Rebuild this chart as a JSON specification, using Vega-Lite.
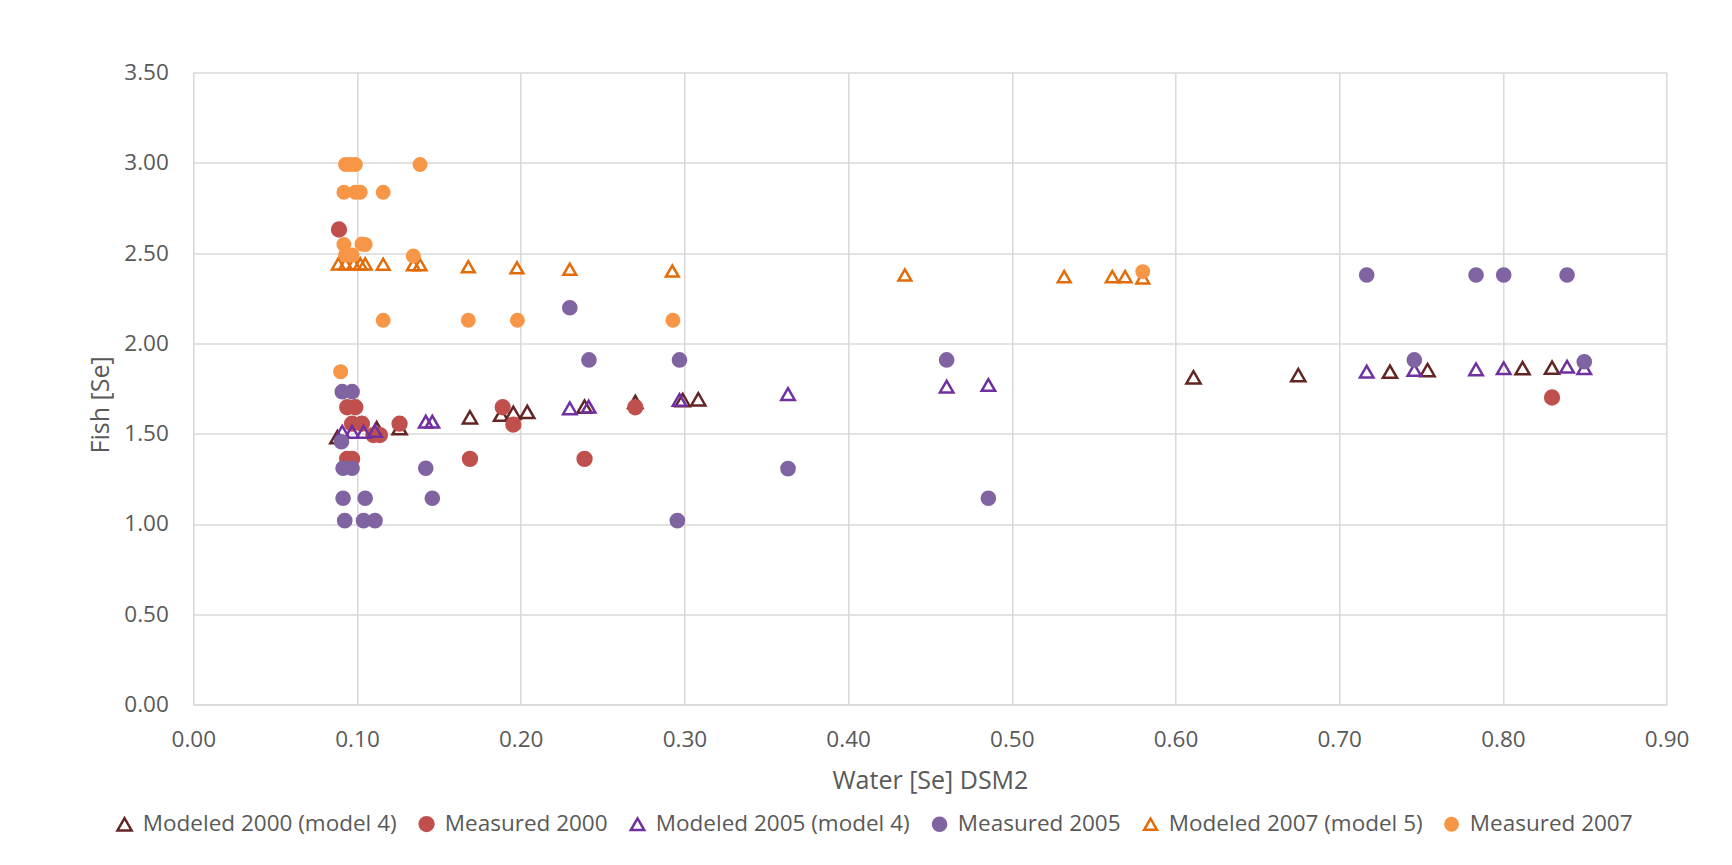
{
  "$schema": "https://vega.github.io/schema/vega-lite/v6.json",
  "width": 1473.3,
  "height": 632.1,
  "autosize": {"type": "none"},
  "padding": {"left": 193.3, "top": 72.4, "right": 65.4, "bottom": 160.5},
  "background": "white",
  "config": {
    "font": "Open Sans",
    "view": {"stroke": null},
    "axis": {
      "labelFont": "Open Sans",
      "labelFontSize": 22.5,
      "labelColor": "#595959",
      "titleFont": "Open Sans",
      "titleFontSize": 25,
      "titleFontWeight": "normal",
      "titleColor": "#595959",
      "gridColor": "#d9d9d9",
      "gridWidth": 1.5,
      "ticks": false,
      "domainColor": "#d9d9d9",
      "domainWidth": 1.5
    },
    "legend": {
      "labelFont": "Open Sans",
      "labelFontSize": 22.5,
      "labelColor": "#595959",
      "labelLimit": 0,
      "title": null,
      "orient": "none",
      "direction": "horizontal",
      "legendX": -80,
      "legendY": 740,
      "symbolStrokeWidth": 2.5,
      "labelOffset": 7,
      "columnPadding": 17
    }
  },
  "data": {
    "values": [
      {"series": "Modeled 2000 (model 4)", "water": 0.088, "fish": 1.48},
      {"series": "Modeled 2000 (model 4)", "water": 0.112, "fish": 1.53},
      {"series": "Modeled 2000 (model 4)", "water": 0.126, "fish": 1.53},
      {"series": "Modeled 2000 (model 4)", "water": 0.169, "fish": 1.59},
      {"series": "Modeled 2000 (model 4)", "water": 0.188, "fish": 1.605},
      {"series": "Modeled 2000 (model 4)", "water": 0.1955, "fish": 1.615},
      {"series": "Modeled 2000 (model 4)", "water": 0.204, "fish": 1.62},
      {"series": "Modeled 2000 (model 4)", "water": 0.239, "fish": 1.65},
      {"series": "Modeled 2000 (model 4)", "water": 0.270, "fish": 1.675},
      {"series": "Modeled 2000 (model 4)", "water": 0.299, "fish": 1.686},
      {"series": "Modeled 2000 (model 4)", "water": 0.3085, "fish": 1.69},
      {"series": "Modeled 2000 (model 4)", "water": 0.611, "fish": 1.812},
      {"series": "Modeled 2000 (model 4)", "water": 0.675, "fish": 1.824},
      {"series": "Modeled 2000 (model 4)", "water": 0.731, "fish": 1.843},
      {"series": "Modeled 2000 (model 4)", "water": 0.754, "fish": 1.852},
      {"series": "Modeled 2000 (model 4)", "water": 0.812, "fish": 1.862},
      {"series": "Modeled 2000 (model 4)", "water": 0.830, "fish": 1.865},

      {"series": "Measured 2000", "water": 0.089, "fish": 2.63},
      {"series": "Measured 2000", "water": 0.094, "fish": 1.646},
      {"series": "Measured 2000", "water": 0.099, "fish": 1.646},
      {"series": "Measured 2000", "water": 0.097, "fish": 1.555},
      {"series": "Measured 2000", "water": 0.103, "fish": 1.555},
      {"series": "Measured 2000", "water": 0.110, "fish": 1.492},
      {"series": "Measured 2000", "water": 0.114, "fish": 1.492},
      {"series": "Measured 2000", "water": 0.126, "fish": 1.555},
      {"series": "Measured 2000", "water": 0.094, "fish": 1.36},
      {"series": "Measured 2000", "water": 0.097, "fish": 1.36},
      {"series": "Measured 2000", "water": 0.169, "fish": 1.36},
      {"series": "Measured 2000", "water": 0.189, "fish": 1.646},
      {"series": "Measured 2000", "water": 0.1955, "fish": 1.55},
      {"series": "Measured 2000", "water": 0.239, "fish": 1.36},
      {"series": "Measured 2000", "water": 0.270, "fish": 1.646},
      {"series": "Measured 2000", "water": 0.830, "fish": 1.70},

      {"series": "Modeled 2005 (model 4)", "water": 0.091, "fish": 1.51},
      {"series": "Modeled 2005 (model 4)", "water": 0.097, "fish": 1.51},
      {"series": "Modeled 2005 (model 4)", "water": 0.104, "fish": 1.51},
      {"series": "Modeled 2005 (model 4)", "water": 0.111, "fish": 1.515},
      {"series": "Modeled 2005 (model 4)", "water": 0.142, "fish": 1.566},
      {"series": "Modeled 2005 (model 4)", "water": 0.146, "fish": 1.566},
      {"series": "Modeled 2005 (model 4)", "water": 0.230, "fish": 1.64},
      {"series": "Modeled 2005 (model 4)", "water": 0.2415, "fish": 1.649},
      {"series": "Modeled 2005 (model 4)", "water": 0.297, "fish": 1.686},
      {"series": "Modeled 2005 (model 4)", "water": 0.3633, "fish": 1.719},
      {"series": "Modeled 2005 (model 4)", "water": 0.4602, "fish": 1.76},
      {"series": "Modeled 2005 (model 4)", "water": 0.4857, "fish": 1.769},
      {"series": "Modeled 2005 (model 4)", "water": 0.7168, "fish": 1.843},
      {"series": "Modeled 2005 (model 4)", "water": 0.7459, "fish": 1.852},
      {"series": "Modeled 2005 (model 4)", "water": 0.7836, "fish": 1.856},
      {"series": "Modeled 2005 (model 4)", "water": 0.8005, "fish": 1.862},
      {"series": "Modeled 2005 (model 4)", "water": 0.8392, "fish": 1.87},
      {"series": "Modeled 2005 (model 4)", "water": 0.8497, "fish": 1.862},

      {"series": "Measured 2005", "water": 0.091, "fish": 1.732},
      {"series": "Measured 2005", "water": 0.097, "fish": 1.732},
      {"series": "Measured 2005", "water": 0.0905, "fish": 1.455},
      {"series": "Measured 2005", "water": 0.0915, "fish": 1.308},
      {"series": "Measured 2005", "water": 0.097, "fish": 1.308},
      {"series": "Measured 2005", "water": 0.0915, "fish": 1.142},
      {"series": "Measured 2005", "water": 0.105, "fish": 1.142},
      {"series": "Measured 2005", "water": 0.0925, "fish": 1.018},
      {"series": "Measured 2005", "water": 0.104, "fish": 1.018},
      {"series": "Measured 2005", "water": 0.111, "fish": 1.018},
      {"series": "Measured 2005", "water": 0.142, "fish": 1.308},
      {"series": "Measured 2005", "water": 0.146, "fish": 1.142},
      {"series": "Measured 2005", "water": 0.230, "fish": 2.197},
      {"series": "Measured 2005", "water": 0.2417, "fish": 1.908},
      {"series": "Measured 2005", "water": 0.297, "fish": 1.908},
      {"series": "Measured 2005", "water": 0.2957, "fish": 1.018},
      {"series": "Measured 2005", "water": 0.3633, "fish": 1.306},
      {"series": "Measured 2005", "water": 0.4602, "fish": 1.908},
      {"series": "Measured 2005", "water": 0.4857, "fish": 1.142},
      {"series": "Measured 2005", "water": 0.7168, "fish": 2.378},
      {"series": "Measured 2005", "water": 0.7836, "fish": 2.378},
      {"series": "Measured 2005", "water": 0.8005, "fish": 2.378},
      {"series": "Measured 2005", "water": 0.8392, "fish": 2.378},
      {"series": "Measured 2005", "water": 0.7459, "fish": 1.908},
      {"series": "Measured 2005", "water": 0.8497, "fish": 1.898},

      {"series": "Modeled 2007 (model 5)", "water": 0.0886, "fish": 2.44},
      {"series": "Modeled 2007 (model 5)", "water": 0.093, "fish": 2.44},
      {"series": "Modeled 2007 (model 5)", "water": 0.098, "fish": 2.44},
      {"series": "Modeled 2007 (model 5)", "water": 0.102, "fish": 2.44},
      {"series": "Modeled 2007 (model 5)", "water": 0.105, "fish": 2.44},
      {"series": "Modeled 2007 (model 5)", "water": 0.116, "fish": 2.438},
      {"series": "Modeled 2007 (model 5)", "water": 0.1344, "fish": 2.435},
      {"series": "Modeled 2007 (model 5)", "water": 0.1385, "fish": 2.435},
      {"series": "Modeled 2007 (model 5)", "water": 0.168, "fish": 2.424},
      {"series": "Modeled 2007 (model 5)", "water": 0.1977, "fish": 2.418},
      {"series": "Modeled 2007 (model 5)", "water": 0.230, "fish": 2.41},
      {"series": "Modeled 2007 (model 5)", "water": 0.2926, "fish": 2.40},
      {"series": "Modeled 2007 (model 5)", "water": 0.4347, "fish": 2.378},
      {"series": "Modeled 2007 (model 5)", "water": 0.532, "fish": 2.369},
      {"series": "Modeled 2007 (model 5)", "water": 0.5614, "fish": 2.369},
      {"series": "Modeled 2007 (model 5)", "water": 0.5692, "fish": 2.369},
      {"series": "Modeled 2007 (model 5)", "water": 0.580, "fish": 2.362},

      {"series": "Measured 2007", "water": 0.093, "fish": 2.99},
      {"series": "Measured 2007", "water": 0.096, "fish": 2.99},
      {"series": "Measured 2007", "water": 0.099, "fish": 2.99},
      {"series": "Measured 2007", "water": 0.1385, "fish": 2.99},
      {"series": "Measured 2007", "water": 0.092, "fish": 2.836},
      {"series": "Measured 2007", "water": 0.099, "fish": 2.836},
      {"series": "Measured 2007", "water": 0.102, "fish": 2.836},
      {"series": "Measured 2007", "water": 0.116, "fish": 2.836},
      {"series": "Measured 2007", "water": 0.092, "fish": 2.547},
      {"series": "Measured 2007", "water": 0.103, "fish": 2.55},
      {"series": "Measured 2007", "water": 0.105, "fish": 2.547},
      {"series": "Measured 2007", "water": 0.093, "fish": 2.489},
      {"series": "Measured 2007", "water": 0.097, "fish": 2.489},
      {"series": "Measured 2007", "water": 0.1344, "fish": 2.483},
      {"series": "Measured 2007", "water": 0.116, "fish": 2.128},
      {"series": "Measured 2007", "water": 0.168, "fish": 2.128},
      {"series": "Measured 2007", "water": 0.198, "fish": 2.128},
      {"series": "Measured 2007", "water": 0.293, "fish": 2.128},
      {"series": "Measured 2007", "water": 0.090, "fish": 1.843},
      {"series": "Measured 2007", "water": 0.580, "fish": 2.397}
    ]
  },
  "mark": {"type": "point", "strokeWidth": 2.5, "opacity": 1},
  "encoding": {
    "x": {
      "field": "water", "type": "quantitative",
      "scale": {"domain": [0, 0.9], "nice": false, "zero": false},
      "axis": {
        "values": [0, 0.1, 0.2, 0.3, 0.4, 0.5, 0.6, 0.7, 0.8, 0.9],
        "format": ".2f",
        "title": "Water [Se] DSM2",
        "labelPadding": 24,
        "titleY": 83.5,
        "titleBaseline": "alphabetic",
        "labelFlush": false
      }
    },
    "y": {
      "field": "fish", "type": "quantitative",
      "scale": {"domain": [0, 3.5], "nice": false},
      "axis": {
        "values": [0, 0.5, 1, 1.5, 2, 2.5, 3, 3.5],
        "format": ".2f",
        "title": "Fish [Se]",
        "labelPadding": 25,
        "domain": false,
        "titleX": -93,
        "titleY": 332,
        "titleAlign": "center",
        "titleBaseline": "middle",
        "titleAngle": -90,
        "labelFlush": false
      }
    },
    "shape": {
      "field": "series", "type": "nominal",
      "scale": {
        "domain": ["Modeled 2000 (model 4)", "Measured 2000", "Modeled 2005 (model 4)", "Measured 2005", "Modeled 2007 (model 5)", "Measured 2007"],
        "range": ["triangle-up", "circle", "triangle-up", "circle", "triangle-up", "circle"]
      }
    },
    "stroke": {
      "field": "series", "type": "nominal",
      "scale": {
        "domain": ["Modeled 2000 (model 4)", "Measured 2000", "Modeled 2005 (model 4)", "Measured 2005", "Modeled 2007 (model 5)", "Measured 2007"],
        "range": ["#632523", "#C0504D", "#7030A0", "#8064A2", "#E36C09", "#F79646"]
      }
    },
    "fill": {
      "field": "series", "type": "nominal",
      "scale": {
        "domain": ["Modeled 2000 (model 4)", "Measured 2000", "Modeled 2005 (model 4)", "Measured 2005", "Modeled 2007 (model 5)", "Measured 2007"],
        "range": ["transparent", "#C0504D", "transparent", "#8064A2", "transparent", "#F79646"]
      }
    },
    "size": {
      "field": "series", "type": "ordinal",
      "scale": {
        "domain": ["Modeled 2000 (model 4)", "Measured 2000", "Modeled 2005 (model 4)", "Measured 2005", "Modeled 2007 (model 5)", "Measured 2007"],
        "range": [200, 155, 200, 155, 200, 155]
      }
    }
  }
}
